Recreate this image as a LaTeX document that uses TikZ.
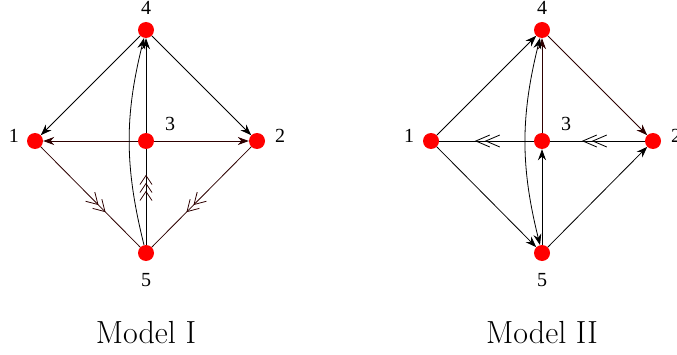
\documentclass[tikz,border=0pt]{standalone}
\usepackage{fontspec}
\newfontfamily\numfont{Liberation Serif}
\usetikzlibrary{arrows.meta,decorations.markings}
\definecolor{edgebrown}{RGB}{45,0,0}
\tikzset{
  dot/.style={circle,fill=red,minimum size=16pt,inner sep=0pt},
  lab/.style={font=\numfont\fontsize{20}{23}\selectfont,inner sep=0pt},
  ttl/.style={font=\fontsize{32}{38}\selectfont,inner sep=0pt},
  arr/.style={-{Stealth[length=11pt,width=8pt]},line width=0.8pt},
  plain/.style={line width=0.8pt},
}
\begin{document}
\begin{tikzpicture}[x=1pt,y=1pt]
\useasboundingbox (0,0) rectangle (677,354);
% ---------- Model I ----------
\node[dot] (a1) at (35,213) {};
\node[dot] (a2) at (257,213) {};
\node[dot] (a3) at (146,213) {};
\node[dot] (a4) at (146,324) {};
\node[dot] (a5) at (146,101) {};
\node[lab] (la1) at (14,218) {1};
\node[lab] (la2) at (280,218) {2};
\node[lab] (la3) at (170,230) {3};
\node[lab] (la4) at (146,346) {4};
\node[lab] (la5) at (146,74) {5};
\node[ttl] (t1) at (146,21) {Model I};
\draw[arr] (a4) -- (a1);
\draw[arr] (a4) -- (a2);
\draw[arr,edgebrown] (a3) -- (a1);
\draw[arr,edgebrown] (a3) -- (a2);
\draw[arr] (a3) -- (a4);
\draw[arr] (a5) to[bend left=14] (a4);
\draw[plain,edgebrown,postaction=decorate,decoration={markings,
   mark=at position 92pt with {\arrow[edgebrown]{Straight Barb[length=11pt,width=13pt,line width=0.8pt]}},
   mark=at position 82pt with {\arrow[edgebrown]{Straight Barb[length=11pt,width=13pt,line width=0.8pt]}}}]
   (a1) -- (a5);
\draw[plain,edgebrown,postaction=decorate,decoration={markings,
   mark=at position 92pt with {\arrow[edgebrown]{Straight Barb[length=11pt,width=13pt,line width=0.8pt]}},
   mark=at position 82pt with {\arrow[edgebrown]{Straight Barb[length=11pt,width=13pt,line width=0.8pt]}}}]
   (a2) -- (a5);
\draw[plain,postaction=decorate,decoration={markings,
   mark=at position 70pt with {\arrow[edgebrown]{Straight Barb[length=9pt,width=12pt,line width=0.8pt]}},
   mark=at position 62pt with {\arrow[edgebrown]{Straight Barb[length=9pt,width=12pt,line width=0.8pt]}},
   mark=at position 54pt with {\arrow[edgebrown]{Straight Barb[length=9pt,width=12pt,line width=0.8pt]}}}]
   (a5) -- (a3);
% ---------- Model II ----------
\node[dot] (b1) at (431,213) {};
\node[dot] (b2) at (653,213) {};
\node[dot] (b3) at (542,213) {};
\node[dot] (b4) at (542,324) {};
\node[dot] (b5) at (542,101) {};
\node[lab] (lb1) at (409,218) {1};
\node[lab] (lb2) at (676,218) {2};
\node[lab] (lb3) at (566,230) {3};
\node[lab] (lb4) at (542,346) {4};
\node[lab] (lb5) at (542,74) {5};
\node[ttl] (t2) at (542,21) {Model II};
\draw[arr] (b1) -- (b4);
\draw[arr] (b1) -- (b5);
\draw[arr,edgebrown] (b4) -- (b2);
\draw[arr] (b5) -- (b2);
\draw[arr,edgebrown] (b3) -- (b4);
\draw[arr] (b5) -- (b3);
\draw[{Stealth[length=11pt,width=8pt]}-{Stealth[length=11pt,width=8pt]},line width=0.8pt] (b4) to[bend right=14] (b5);
\draw[plain,postaction=decorate,decoration={markings,
   mark=at position 63pt with {\arrow{Straight Barb[length=14pt,width=12pt,line width=0.8pt]}},
   mark=at position 53pt with {\arrow{Straight Barb[length=14pt,width=12pt,line width=0.8pt]}}}]
   (b2) -- (b3);
\draw[plain,postaction=decorate,decoration={markings,
   mark=at position 59pt with {\arrow{Straight Barb[length=14pt,width=12pt,line width=0.8pt]}},
   mark=at position 49pt with {\arrow{Straight Barb[length=14pt,width=12pt,line width=0.8pt]}}}]
   (b3) -- (b1);
\end{tikzpicture}
\end{document}
